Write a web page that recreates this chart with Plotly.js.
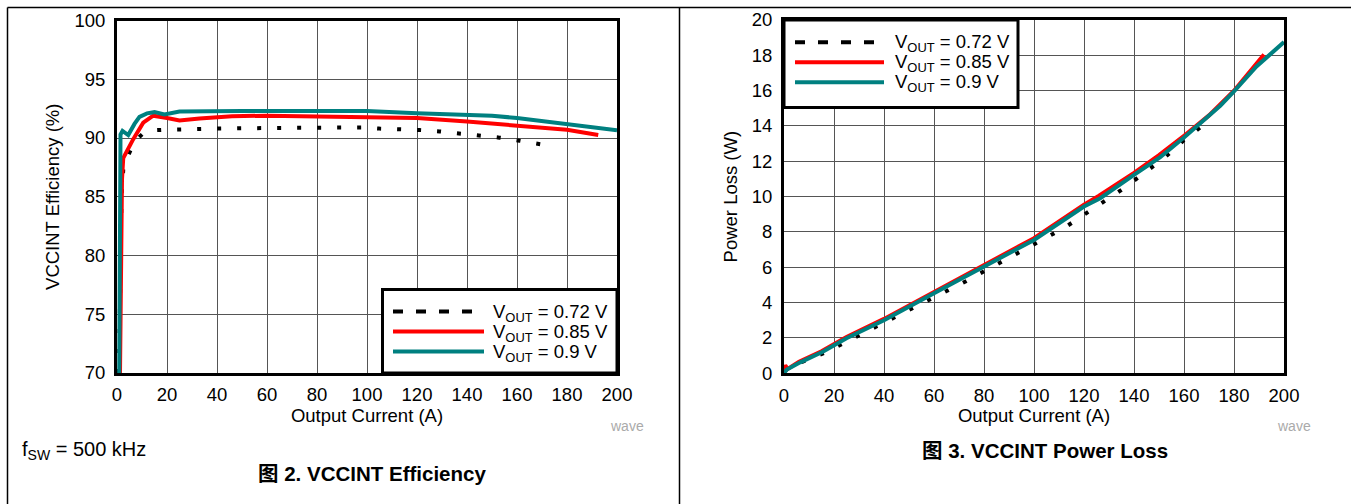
<!DOCTYPE html>
<html>
<head>
<meta charset="utf-8">
<script src="https://cdn.plot.ly/plotly-3.0.1.min.js"></script>
<style>html,body{margin:0;padding:0;background:#fff;}#chart{width:1351px;height:504px;}</style>
</head>
<body>
<div id="chart"></div>
<script>
// ---- Data: Efficiency (%) vs Output Current (A) ----
const effI_072 = [0.8, 1.2, 1.8, 2.5, 4, 5.5, 8, 10.5, 14, 18.5, 26, 40, 60, 80, 98, 105, 113, 121, 129, 137, 145, 153, 161, 170];
const effE_072 = [70, 80, 85, 87.3, 88.3, 89.0, 89.9, 90.4, 90.65, 90.7, 90.75, 90.8, 90.85, 90.9, 90.9, 90.8, 90.75, 90.68, 90.56, 90.4, 90.22, 90.03, 89.77, 89.45];
const effI_085 = [1.2, 1.6, 2.0, 2.5, 4, 6.5, 10.5, 14.5, 20, 25, 33, 46, 60, 80, 100, 120, 140, 160, 180, 192.5];
const effE_085 = [70, 82, 86.5, 88.3, 88.9, 89.9, 91.3, 91.9, 91.7, 91.5, 91.65, 91.85, 91.9, 91.85, 91.83, 91.7, 91.4, 91.05, 90.7, 90.25];
const effI_090 = [0.9, 1.1, 1.4, 2.2, 4.5, 7, 9, 12, 15, 19, 25, 50, 75, 100, 120, 140, 150, 160, 180, 200];
const effE_090 = [70, 85, 90.3, 90.6, 90.25, 91.2, 91.8, 92.1, 92.2, 92.0, 92.25, 92.3, 92.3, 92.3, 92.1, 91.95, 91.9, 91.7, 91.2, 90.65];

// ---- Data: Power Loss (W) vs Output Current (A) ----
const lossI_072 = [0, 3, 9, 17, 25, 33, 41, 49, 57, 65, 73, 81, 88.5, 96.5, 104.5, 112.5, 120, 128, 136, 144, 152, 160, 170];
const lossP_072 = [0.1, 0.4, 0.75, 1.2, 1.79, 2.36, 2.98, 3.49, 4.11, 4.66, 5.23, 5.85, 6.42, 6.98, 7.65, 8.27, 8.97, 9.67, 10.48, 11.33, 12.18, 13.2, 14.3];
const lossI_085 = [0, 0.5, 1.5, 6, 15, 25, 40, 60, 80, 100, 120, 126, 140, 150, 160, 170, 180, 192];
const lossP_085 = [0.1, 0.45, 0.25, 0.65, 1.25, 2.05, 3.08, 4.6, 6.12, 7.65, 9.55, 10.05, 11.35, 12.35, 13.45, 14.6, 16.0, 18.05];
const lossI_090 = [0, 1, 6.5, 15.5, 25, 40, 60, 80, 100, 120, 126.5, 140, 150.5, 160, 166, 174.5, 180, 189, 200];
const lossP_090 = [0, 0.2, 0.62, 1.22, 1.98, 3.0, 4.53, 6.04, 7.55, 9.44, 9.91, 11.23, 12.24, 13.35, 14.1, 15.15, 15.96, 17.37, 18.75];

// ---- Labels ----
const seriesNames = ["V<sub>OUT</sub> = 0.72 V", "V<sub>OUT</sub> = 0.85 V", "V<sub>OUT</sub> = 0.9 V"];
const xTitle = "Output Current (A)";
const yTitle1 = "VCCINT Efficiency (%)";
const yTitle2 = "Power Loss (W)";
const caption1 = "<b>图 2. VCCINT Efficiency</b>";
const caption2 = "<b>图 3. VCCINT Power Loss</b>";
const noteText = "f<sub>SW</sub> = 500 kHz";
const watermark = "wave";

// ---- Styling ----
const W = 1351, H = 504;
const px = x => x / W;
const py = y => 1 - y / H;
const FONT = "Liberation Sans, Arial, Noto Sans CJK SC, sans-serif";
const AX = 18.5;
const colors = ["#000000", "#ff0000", "#008080"];
const lineStyles = [
  {color: colors[0], width: 4, dash: "4px,16px"},
  {color: colors[1], width: 4},
  {color: colors[2], width: 4}
];

const effX = [effI_072, effI_085, effI_090];
const effY = [effE_072, effE_085, effE_090];
const lossX = [lossI_072, lossI_085, lossI_090];
const lossY = [lossP_072, lossP_085, lossP_090];

const traces = [];
for (let i = 0; i < 3; i++) {
  traces.push({x: effX[i], y: effY[i], type: "scatter", mode: "lines", name: seriesNames[i],
    line: Object.assign({}, lineStyles[i]), xaxis: "x", yaxis: "y", showlegend: false, hoverinfo: "skip"});
}
for (let i = 0; i < 3; i++) {
  traces.push({x: lossX[i], y: lossY[i], type: "scatter", mode: "lines", name: seriesNames[i],
    line: Object.assign({}, lineStyles[i]), xaxis: "x2", yaxis: "y2", showlegend: false, hoverinfo: "skip"});
}

function axisCommon() {
  return {
    showline: true, linecolor: "#000", linewidth: 3, mirror: true,
    showgrid: true, gridcolor: "#555", gridwidth: 1,
    zeroline: false, ticks: "", ticklabelstandoff: 5,
    tickfont: {family: FONT, size: AX, color: "#000"},
    fixedrange: true, automargin: false
  };
}

const xa1 = Object.assign(axisCommon(), {domain: [px(117), px(617)], range: [0, 200], dtick: 20, tick0: 0, anchor: "y", ticklabelstandoff: 3,
  title: {text: xTitle, font: {family: FONT, size: AX, color: "#000"}, standoff: 2}});
const ya1 = Object.assign(axisCommon(), {domain: [py(373), py(20.5)], range: [70, 100], dtick: 5, tick0: 70, anchor: "x",
  title: {text: yTitle1, font: {family: FONT, size: AX, color: "#000"}, standoff: 10}});
const xa2 = Object.assign(axisCommon(), {domain: [px(784), px(1284)], range: [0, 200], dtick: 20, tick0: 0, anchor: "y2", ticklabelstandoff: 3,
  title: {text: xTitle, font: {family: FONT, size: AX, color: "#000"}, standoff: 2}});
const ya2 = Object.assign(axisCommon(), {domain: [py(373.3), py(20)], range: [0, 20], dtick: 2, tick0: 0, anchor: "x2",
  title: {text: yTitle2, font: {family: FONT, size: AX, color: "#000"}, standoff: 10}});

// Custom legends (box + sample lines + labels)
const shapes = [
  // outer frame
  {type: "line", xref: "paper", yref: "paper", x0: px(7.5), x1: 1, y0: py(7.5), y1: py(7.5), line: {color: "#000", width: 1.5}},
  {type: "line", xref: "paper", yref: "paper", x0: px(7.5), x1: px(7.5), y0: py(7.5), y1: 0, line: {color: "#000", width: 1.5}},
  {type: "line", xref: "paper", yref: "paper", x0: px(679.5), x1: px(679.5), y0: py(7.5), y1: 0, line: {color: "#000", width: 1.5}},
  // legend box 1
  {type: "rect", xref: "paper", yref: "paper", x0: px(382.5), x1: px(617), y0: py(373), y1: py(289.5),
    fillcolor: "#fff", line: {color: "#000", width: 3}, layer: "above"},
  // legend box 2
  {type: "rect", xref: "paper", yref: "paper", x0: px(784), x1: px(1018), y0: py(107.5), y1: py(20),
    fillcolor: "#fff", line: {color: "#000", width: 3}, layer: "above"}
];
const annotations = [];
const legRows1 = [311.5, 331.5, 351.5];
const legRows2 = [42.3, 62.3, 82.3];
const legendDash = ["10px,13px", "solid", "solid"];
for (let i = 0; i < 3; i++) {
  shapes.push({type: "line", xref: "paper", yref: "paper", x0: px(393), x1: px(484), y0: py(legRows1[i]), y1: py(legRows1[i]),
    line: {color: colors[i], width: 4, dash: legendDash[i]}, layer: "above"});
  shapes.push({type: "line", xref: "paper", yref: "paper", x0: px(795), x1: px(884), y0: py(legRows2[i]), y1: py(legRows2[i]),
    line: {color: colors[i], width: 4, dash: legendDash[i]}, layer: "above"});
  annotations.push({xref: "paper", yref: "paper", x: px(491), y: py(legRows1[i] + 1), xanchor: "left", yanchor: "middle",
    text: seriesNames[i], showarrow: false, font: {family: FONT, size: 18.5, color: "#000"}});
  annotations.push({xref: "paper", yref: "paper", x: px(893), y: py(legRows2[i] + 1), xanchor: "left", yanchor: "middle",
    text: seriesNames[i], showarrow: false, font: {family: FONT, size: 18.5, color: "#000"}});
}
annotations.push(
  {xref: "paper", yref: "paper", x: px(646), y: py(426), xanchor: "right", yanchor: "middle", text: watermark, showarrow: false,
    font: {family: FONT, size: 14, color: "#aaaaaa"}},
  {xref: "paper", yref: "paper", x: px(1313), y: py(426), xanchor: "right", yanchor: "middle", text: watermark, showarrow: false,
    font: {family: FONT, size: 14, color: "#aaaaaa"}},
  {xref: "paper", yref: "paper", x: px(20), y: py(450), xanchor: "left", yanchor: "middle", text: noteText, showarrow: false,
    font: {family: FONT, size: 20, color: "#000"}},
  {xref: "paper", yref: "paper", x: px(372), y: py(473), xanchor: "center", yanchor: "middle", text: caption1, showarrow: false,
    font: {family: FONT, size: 20.5, color: "#000"}},
  {xref: "paper", yref: "paper", x: px(1045), y: py(450), xanchor: "center", yanchor: "middle", text: caption2, showarrow: false,
    font: {family: FONT, size: 20.5, color: "#000"}}
);

const layout = {
  width: W, height: H,
  margin: {l: 0, r: 0, t: 0, b: 0, pad: 0},
  paper_bgcolor: "#fff", plot_bgcolor: "#fff",
  font: {family: FONT, color: "#000"},
  xaxis: xa1, yaxis: ya1, xaxis2: xa2, yaxis2: ya2,
  shapes: shapes, annotations: annotations,
  showlegend: false
};

Plotly.newPlot("chart", traces, layout, {displayModeBar: false, staticPlot: true});
</script>
</body>
</html>
